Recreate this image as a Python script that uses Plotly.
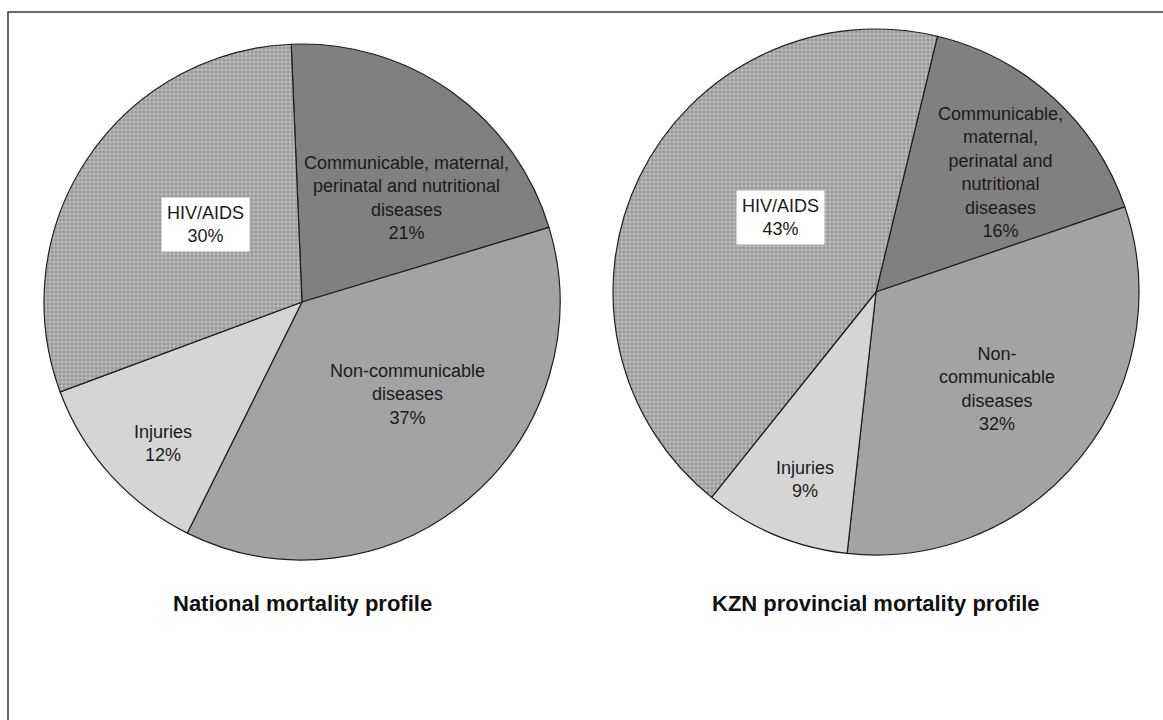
import plotly.graph_objects as go

W, H = 1163, 720

# Mortality profiles (% of deaths by cause group)
causes = [
    "Communicable, maternal, perinatal and nutritional diseases",
    "Non-communicable diseases",
    "Injuries",
    "HIV/AIDS",
]
national_pct = [21, 37, 12, 30]
kzn_pct = [16, 32, 9, 43]
panel_titles = ["National mortality profile", "KZN provincial mortality profile"]

# Wrapped label captions per panel (same order as causes)
national_captions = [
    "Communicable, maternal,<br>perinatal and nutritional<br>diseases",
    "Non-communicable<br>diseases",
    "Injuries",
    "HIV/AIDS",
]
kzn_captions = [
    "Communicable,<br>maternal,<br>perinatal and<br>nutritional<br>diseases",
    "Non-<br>communicable<br>diseases",
    "Injuries",
    "HIV/AIDS",
]

# ---- styling -------------------------------------------------------------
slice_colors = ["#808080", "#a3a3a3", "#d5d5d5", "#979797"]
slice_shapes = ["", "", "", "+"]
edge = dict(color="#1e1e1e", width=1.2)
label_font = dict(family="Arial, Liberation Sans, sans-serif", size=18, color="#1a1a1a")
title_font = dict(family="Arial, Liberation Sans, sans-serif", size=22, color="#111111")


def px_x(x):
    return x / W


def px_y(y):
    return 1 - y / H


# pie geometry in pixels: centre x, centre y, radius, start angle
pies = [
    dict(cx=302, cy=302, r=258, rot=-2.4),
    dict(cx=876, cy=292, r=263, rot=13.5),
]
# caption centres in pixels, per panel, order as causes
caption_pos = [
    [(406, 198), (407, 394), (163, 443), (205, 224)],
    [(1000, 172), (997, 389), (805, 479), (780, 217)],
]

fig = go.Figure()
for p, vals in zip(pies, [national_pct, kzn_pct]):
    fig.add_trace(
        go.Pie(
            labels=causes,
            values=vals,
            sort=False,
            direction="clockwise",
            rotation=p["rot"],
            textinfo="none",
            hoverinfo="label+percent",
            marker=dict(
                colors=slice_colors,
                line=edge,
                pattern=dict(
                    shape=slice_shapes,
                    size=4, solidity=0.22, fgcolor="#eeeeee", fgopacity=1,
                    bgcolor=slice_colors,
                ),
            ),
            domain=dict(
                x=[px_x(p["cx"] - p["r"]), px_x(p["cx"] + p["r"])],
                y=[px_y(p["cy"] + p["r"]), px_y(p["cy"] - p["r"])],
            ),
            showlegend=False,
        )
    )

annotations = []
for captions, vals, positions in zip(
    [national_captions, kzn_captions], [national_pct, kzn_pct], caption_pos
):
    for name, cap, v, (x, y) in zip(causes, captions, vals, positions):
        boxed = name == "HIV/AIDS"
        annotations.append(
            dict(
                x=px_x(x), y=px_y(y), xref="paper", yref="paper",
                text=f"{cap}<br>{v}%", showarrow=False,
                xanchor="center", yanchor="middle", align="center",
                font=label_font,
                bgcolor="white" if boxed else None,
                borderpad=5 if boxed else 1,
            )
        )

for p, t in zip(pies, panel_titles):
    annotations.append(
        dict(
            x=px_x(p["cx"]), y=px_y(603), xref="paper", yref="paper",
            text=f"<b>{t}</b>", showarrow=False,
            xanchor="center", yanchor="middle", font=title_font,
        )
    )

fig.update_layout(
    width=W, height=H,
    margin=dict(l=0, r=0, t=0, b=0),
    paper_bgcolor="white", plot_bgcolor="white",
    annotations=annotations,
    shapes=[
        dict(
            type="rect", xref="paper", yref="paper",
            x0=px_x(8), x1=1.02, y0=-0.02, y1=px_y(12),
            line=dict(color="#3a3a3a", width=1.5), layer="below",
        )
    ],
)

fig.write_html("out.html")
